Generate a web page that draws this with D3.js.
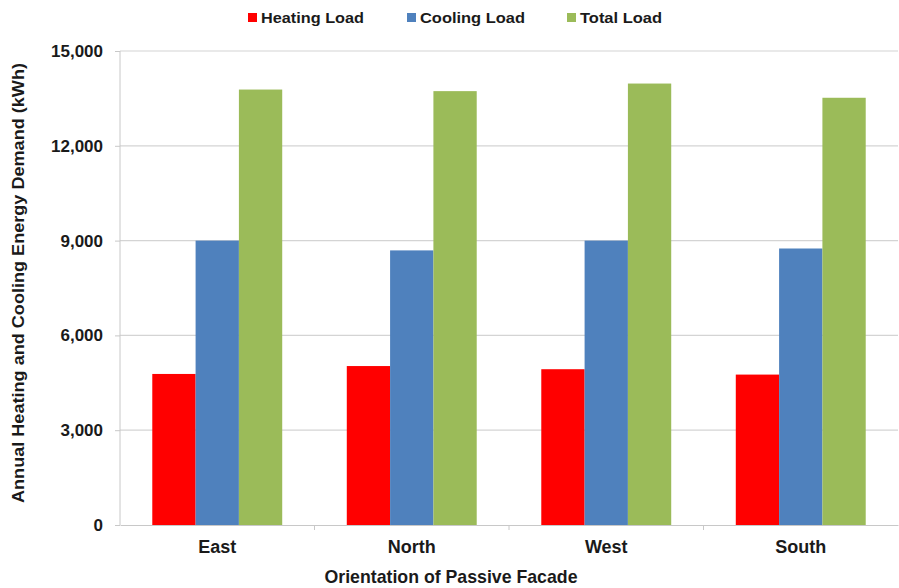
<!DOCTYPE html>
<html>
<head>
<meta charset="utf-8">
<script src="https://cdn.jsdelivr.net/npm/d3@7"></script>
<style>
  html, body { margin: 0; padding: 0; background: #ffffff; }
  svg { display: block; font-family: Arial, "Liberation Sans", Helvetica, sans-serif; }
</style>
</head>
<body>
<svg id="chart" width="899" height="588"></svg>
<script>
// Orientations of the passive facade
const categories = ["East", "North", "West", "South"];
// Series names and colours
const seriesNames = ["Heating Load", "Cooling Load", "Total Load"];
const seriesColors = ["#ff0000", "#4f81bd", "#9bbb59"];
// Annual energy demand (kWh) per orientation
const heatingLoad = [4780, 5030, 4930, 4760];
const coolingLoad = [9000, 8690, 9000, 8750];
const totalLoad = [13780, 13730, 13970, 13520];
// Value axis ticks
const yTicks = [0, 3000, 6000, 9000, 12000, 15000];

const seriesValues = [heatingLoad, coolingLoad, totalLoad];
const rows = categories.map((c, i) => ({
  category: c,
  values: seriesNames.map((s, k) => ({ series: s, value: seriesValues[k][i], color: seriesColors[k] }))
}));

const svg = d3.select("#chart");
const margin = { left: 120, right: 1, top: 51, bottom: 63 };
const W = 899, H = 588;
const plotW = W - margin.left - margin.right;
const plotH = H - margin.top - margin.bottom;

const g = svg.append("g").attr("transform", `translate(${margin.left},${margin.top})`);

const x = d3.scaleBand().domain(categories).range([0, plotW]).paddingInner(0).paddingOuter(0);
const xInner = d3.scaleBand().domain(seriesNames)
  .range([x.bandwidth() * 0.166, x.bandwidth() * 0.834]).padding(0);
const y = d3.scaleLinear().domain([0, 15000]).range([plotH, 0]);

// Horizontal gridlines
g.append("g").selectAll("line").data(yTicks.filter(d => d > 0)).join("line")
  .attr("x1", 0).attr("x2", plotW)
  .attr("y1", d => y(d)).attr("y2", d => y(d))
  .attr("stroke", "#d4d4d4").attr("stroke-width", 1.2);

// Bars
const groups = g.append("g").selectAll("g").data(rows).join("g")
  .attr("transform", d => `translate(${x(d.category)},0)`);
groups.selectAll("rect").data(d => d.values).join("rect")
  .attr("x", d => xInner(d.series))
  .attr("width", xInner.bandwidth())
  .attr("y", d => y(d.value))
  .attr("height", d => y(0) - y(d.value))
  .attr("fill", d => d.color);

// Y axis
const yAxis = g.append("g")
  .call(d3.axisLeft(y).tickValues(yTicks).tickFormat(d3.format(",")).tickSize(5).tickPadding(12));
yAxis.select(".domain").attr("stroke", "#c8c8c8").attr("d", `M0,${y(15000)}V${y(0)}`);
yAxis.selectAll(".tick line").attr("stroke", "#c8c8c8");
yAxis.selectAll(".tick text")
  .attr("fill", "#1a1a1a").attr("font-size", 17).attr("font-weight", "bold")
  .attr("font-family", "Arial, 'Liberation Sans', sans-serif");

// X axis
const xAxis = g.append("g").attr("transform", `translate(0,${plotH})`)
  .call(d3.axisBottom(x).tickSize(0).tickPadding(15));
xAxis.select(".domain").attr("stroke", "#c8c8c8");
xAxis.selectAll(".tick text")
  .attr("fill", "#1a1a1a").attr("font-size", 18).attr("font-weight", "bold")
  .attr("font-family", "Arial, 'Liberation Sans', sans-serif");
// Tick marks between categories
g.append("g").selectAll("line").data(categories.slice(1)).join("line")
  .attr("x1", d => x(d)).attr("x2", d => x(d))
  .attr("y1", plotH).attr("y2", plotH + 5)
  .attr("stroke", "#c8c8c8");

// Axis titles
svg.append("text")
  .attr("transform", `translate(24,${margin.top + plotH / 2 - 5}) rotate(-90)`)
  .attr("text-anchor", "middle")
  .attr("font-size", 16).attr("font-weight", "bold").attr("fill", "#1a1a1a")
  .attr("textLength", 440).attr("lengthAdjust", "spacingAndGlyphs")
  .text("Annual Heating and Cooling Energy Demand (kWh)");

svg.append("text")
  .attr("x", 451).attr("y", 583)
  .attr("text-anchor", "middle")
  .attr("font-size", 19).attr("font-weight", "bold").attr("fill", "#1a1a1a")
  .attr("textLength", 253).attr("lengthAdjust", "spacingAndGlyphs")
  .text("Orientation of Passive Facade");

// Legend
const legendX = [248, 407, 567];
const legendW = [103, 105, 82];
const legend = svg.append("g").selectAll("g").data(seriesNames).join("g")
  .attr("transform", (d, i) => `translate(${legendX[i]},13)`);
legend.append("rect")
  .attr("width", 9).attr("height", 9)
  .attr("fill", (d, i) => seriesColors[i]);
legend.append("text")
  .attr("x", 13).attr("y", 10)
  .attr("font-size", 15).attr("font-weight", "bold").attr("fill", "#1a1a1a")
  .attr("textLength", (d, i) => legendW[i]).attr("lengthAdjust", "spacingAndGlyphs")
  .text(d => d);
</script>
</body>
</html>
